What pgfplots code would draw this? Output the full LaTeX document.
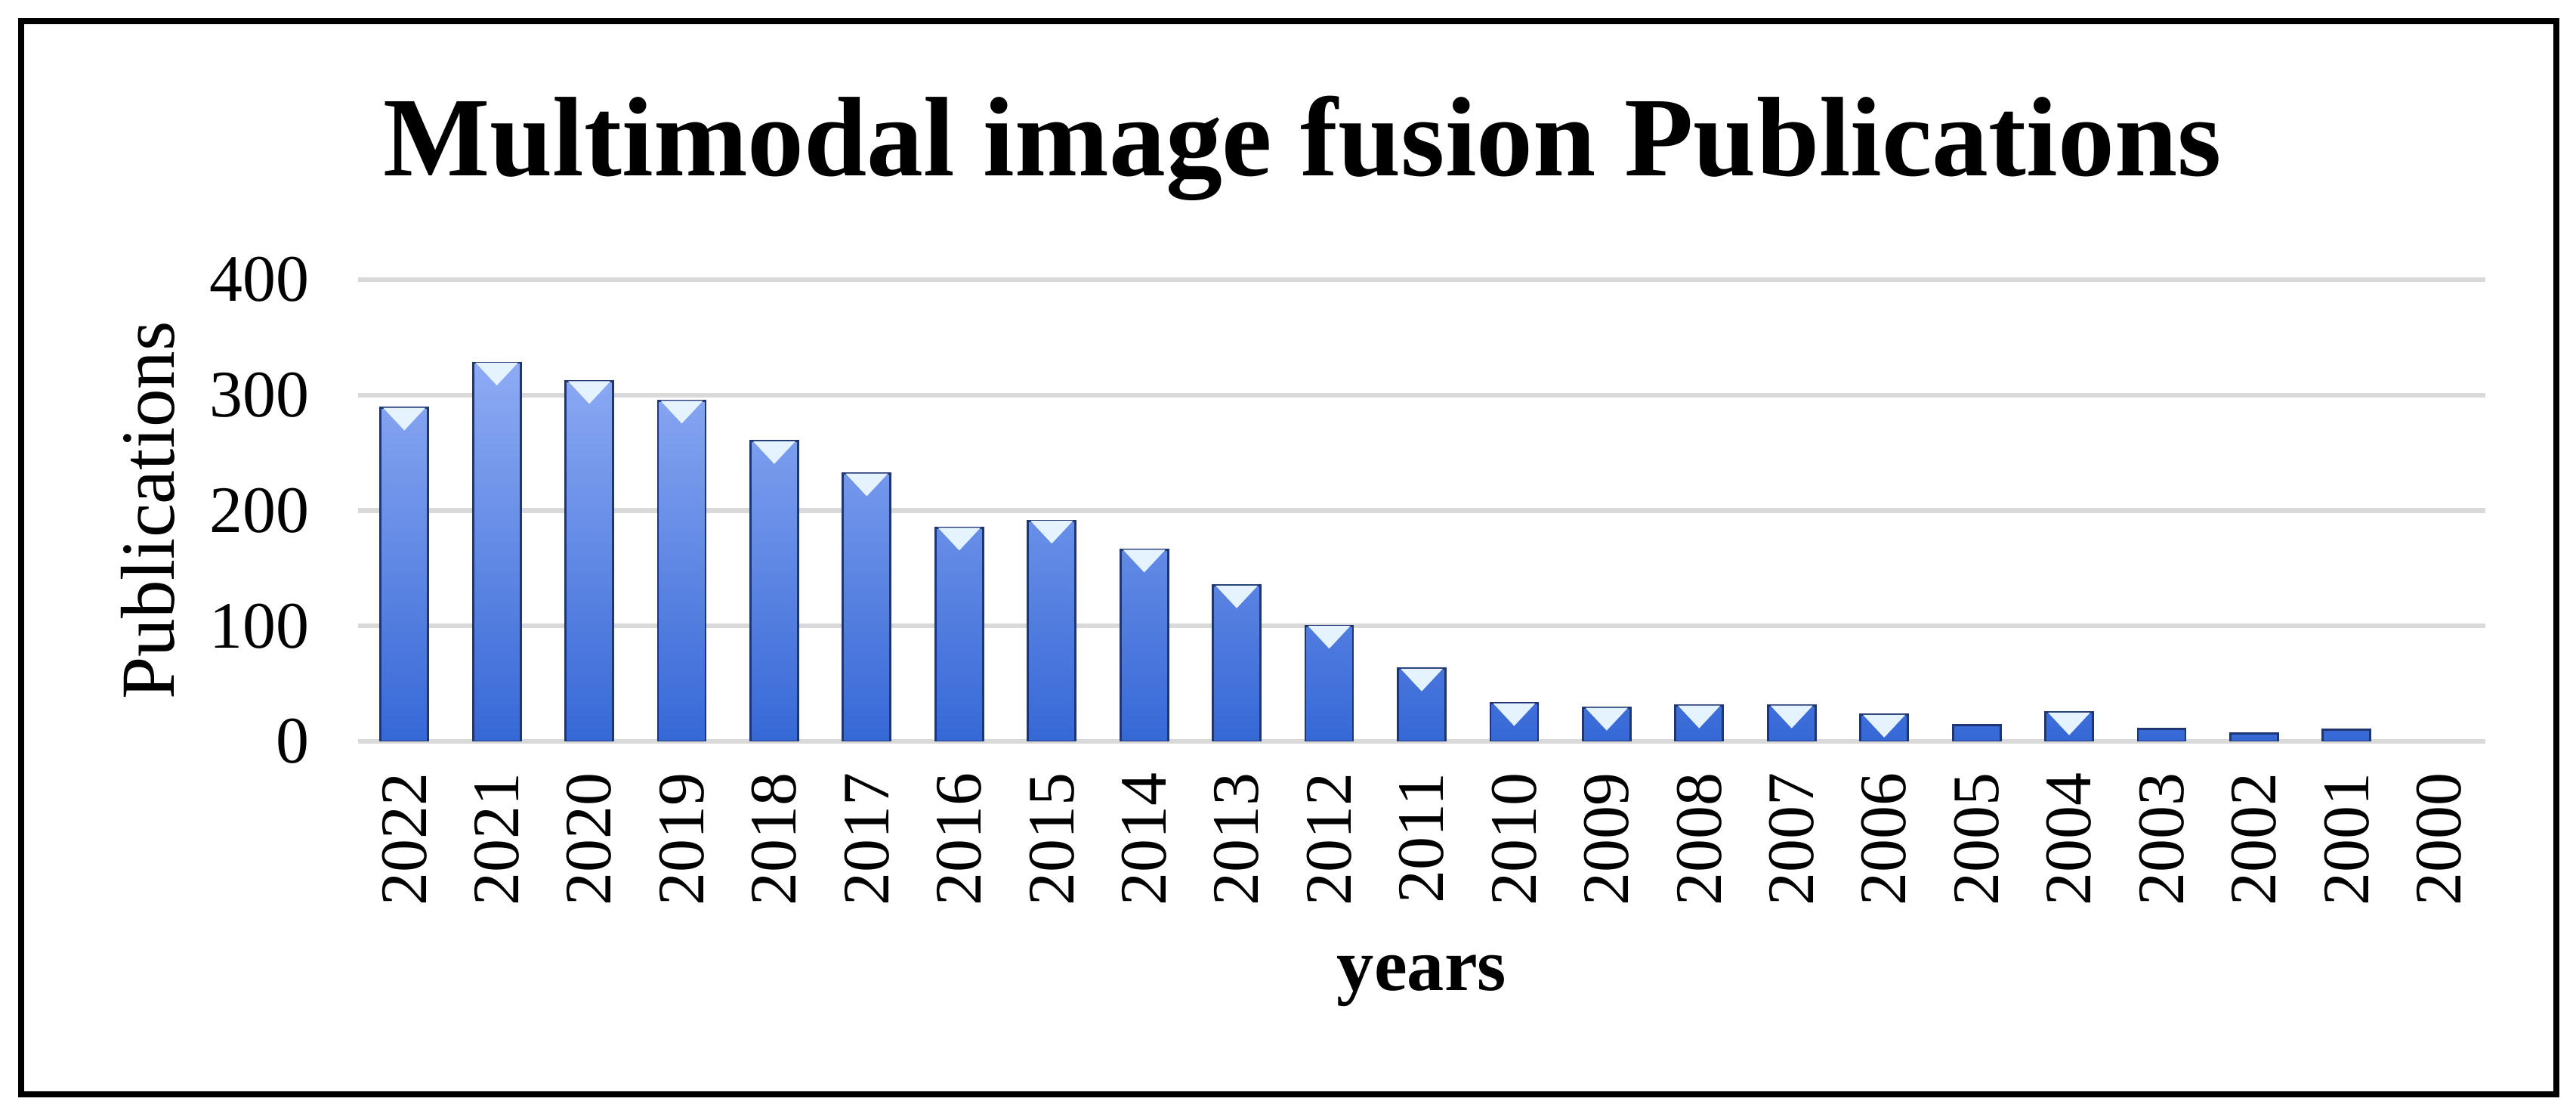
\documentclass[border=0pt]{standalone}
\usepackage{fontspec}
\setmainfont{Liberation Serif}
\usepackage{pgfplots}
\pgfplotsset{compat=1.18}
\usepackage{pgfplotstable}

\definecolor{bartop}{HTML}{8EABF4}
\definecolor{barbot}{HTML}{3668D6}
\definecolor{baredge}{HTML}{1E3672}
\definecolor{barhi}{HTML}{E4F3FF}
\definecolor{gridc}{HTML}{D9D9D9}

% downward triangle hanging from the top of each bar
\pgfdeclareplotmark{vtri}{%
  \pgfpathmoveto{\pgfpoint{-0.14cm}{0cm}}%
  \pgfpathlineto{\pgfpoint{0.14cm}{0cm}}%
  \pgfpathlineto{\pgfpoint{0cm}{-0.15cm}}%
  \pgfpathclose\pgfusepathqfill}

\pgfplotstableread{
idx value
0 289
1 328
2 312
3 295
4 260
5 232
6 185
7 191
8 166
9 135
10 100
11 63
12 33
13 29
14 31
15 31
16 23
17 14
18 25
19 11
20 7
21 10
22 0
}\pubdata

\begin{document}
\begin{tikzpicture}
\path[use as bounding box] (0,0) rectangle (17.05,7.39);
\draw[line width=1.1pt] (0.14,0.15) rectangle (16.92,7.25);
\node[anchor=base, font=\fontsize{21.3}{25}\selectfont\bfseries] at (8.62,6.225)
  {Multimodal image fusion Publications};
\begin{axis}[
  at={(2.37cm,2.485cm)}, anchor=south west,
  scale only axis, width=14.08cm, height=3.055cm,
  xmin=-0.5, xmax=22.5, ymin=0, ymax=400,
  xtick={0,...,22},
  xticklabels={2022,2021,2020,2019,2018,2017,2016,2015,2014,2013,2012,2011,2010,2009,2008,2007,2006,2005,2004,2003,2002,2001,2000},
  ytick={0,100,200,300,400},
  axis line style={draw=none}, tick style={draw=none},
  ymajorgrids, major grid style={line width=0.9pt, gridc},
  /pgf/number format/assume math mode=true,
  tick label style={font=\fontsize{12.5}{15}\selectfont},
  yticklabel style={anchor=east, xshift=-0.2cm},
  xticklabel style={rotate=90, anchor=east, xshift=-0.085cm},
  ylabel={Publications},
  ylabel style={at={([xshift=-1.39cm]axis description cs:0,0.5)}, anchor=center,
    font=\fontsize{14.4}{17}\selectfont},
  xlabel={\textbf{years}},
  xlabel style={at={([yshift=-1.585cm]axis description cs:0.5,0)}, anchor=center,
    font=\fontsize{14}{17}\selectfont},
]
\addplot[ybar, bar width=0.315cm, draw=baredge, line width=0.4pt,
  top color=bartop, bottom color=barbot,
  restrict y to domain=0.5:1000] table[x=idx, y=value] {\pubdata};
\addplot[only marks, mark=vtri, mark options={fill=barhi, draw=none},
  restrict y to domain=20:1000] table[x=idx, y=value] {\pubdata};
\end{axis}
\end{tikzpicture}
\end{document}
